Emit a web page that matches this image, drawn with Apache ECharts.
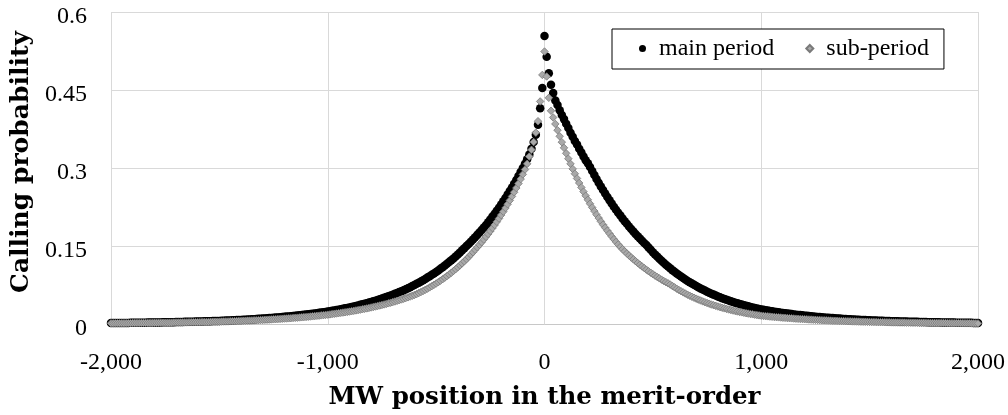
<!DOCTYPE html>
<html>
<head>
<meta charset="utf-8">
<title>Calling probability</title>
<script src="https://cdn.jsdelivr.net/npm/echarts@6/dist/echarts.min.js"></script>
<style>
  html, body { margin: 0; padding: 0; background: #fff; }
  #chart { width: 1008px; height: 415px; }
</style>
</head>
<body>
<div id="chart"></div>
<script>
// MW positions run from -2000 to 2000 in steps of 10
const mwStart = -2000
const mwStep = 10
const seriesNames = ['main period', 'sub-period']

// calling probability, main period (black dots)
const mainPeriod = [
  0.0018, 0.0018, 0.0018, 0.0019, 0.0019, 0.0020, 0.0020, 0.0021, 0.0021, 0.0022,
  0.0023, 0.0023, 0.0024, 0.0024, 0.0025, 0.0026, 0.0026, 0.0027, 0.0028, 0.0028,
  0.0029, 0.0030, 0.0030, 0.0031, 0.0032, 0.0033, 0.0034, 0.0034, 0.0035, 0.0036,
  0.0037, 0.0038, 0.0039, 0.0040, 0.0041, 0.0042, 0.0043, 0.0044, 0.0045, 0.0046,
  0.0047, 0.0048, 0.0050, 0.0051, 0.0052, 0.0053, 0.0055, 0.0056, 0.0057, 0.0059,
  0.0060, 0.0062, 0.0063, 0.0065, 0.0067, 0.0069, 0.0071, 0.0073, 0.0075, 0.0077,
  0.0079, 0.0081, 0.0084, 0.0086, 0.0088, 0.0091, 0.0093, 0.0096, 0.0099, 0.0101,
  0.0104, 0.0107, 0.0110, 0.0113, 0.0117, 0.0120, 0.0123, 0.0127, 0.0130, 0.0134,
  0.0138, 0.0142, 0.0146, 0.0150, 0.0154, 0.0158, 0.0163, 0.0167, 0.0172, 0.0177,
  0.0182, 0.0187, 0.0192, 0.0198, 0.0203, 0.0209, 0.0215, 0.0221, 0.0227, 0.0233,
  0.0240, 0.0247, 0.0254, 0.0261, 0.0269, 0.0276, 0.0284, 0.0293, 0.0301, 0.0310,
  0.0319, 0.0328, 0.0337, 0.0347, 0.0357, 0.0368, 0.0378, 0.0389, 0.0400, 0.0412,
  0.0424, 0.0436, 0.0449, 0.0462, 0.0475, 0.0489, 0.0503, 0.0517, 0.0532, 0.0548,
  0.0564, 0.0580, 0.0597, 0.0614, 0.0632, 0.0650, 0.0669, 0.0688, 0.0708, 0.0729,
  0.0750, 0.0772, 0.0794, 0.0818, 0.0842, 0.0866, 0.0892, 0.0918, 0.0945, 0.0972,
  0.1001, 0.1030, 0.1061, 0.1092, 0.1124, 0.1157, 0.1191, 0.1225, 0.1261, 0.1298,
  0.1336, 0.1376, 0.1416, 0.1457, 0.1500, 0.1540, 0.1582, 0.1625, 0.1668, 0.1714,
  0.1760, 0.1807, 0.1856, 0.1906, 0.1958, 0.2011, 0.2065, 0.2121, 0.2178, 0.2237,
  0.2298, 0.2360, 0.2424, 0.2489, 0.2556, 0.2625, 0.2696, 0.2769, 0.2844, 0.2921,
  0.300, 0.308, 0.317, 0.326, 0.337, 0.350, 0.364, 0.383, 0.415, 0.454,
  0.554, 0.514, 0.482, 0.460, 0.444, 0.430, 0.421, 0.411, 0.402, 0.394,
  0.385, 0.377, 0.368, 0.360, 0.352, 0.345, 0.337, 0.330, 0.322, 0.315,
  0.309, 0.302, 0.2941, 0.2864, 0.2790, 0.2717, 0.2646, 0.2577, 0.2509, 0.2444,
  0.2380, 0.2318, 0.2257, 0.2198, 0.2141, 0.2085, 0.2030, 0.1977, 0.1926, 0.1875,
  0.1826, 0.1779, 0.1732, 0.1687, 0.1643, 0.1600, 0.1558, 0.1518, 0.1472, 0.1426,
  0.1381, 0.1338, 0.1296, 0.1255, 0.1216, 0.1177, 0.1140, 0.1105, 0.1070, 0.1036,
  0.1004, 0.0972, 0.0942, 0.0912, 0.0883, 0.0856, 0.0829, 0.0803, 0.0777, 0.0753,
  0.0729, 0.0706, 0.0684, 0.0663, 0.0642, 0.0622, 0.0602, 0.0583, 0.0565, 0.0547,
  0.0530, 0.0513, 0.0497, 0.0482, 0.0466, 0.0452, 0.0437, 0.0424, 0.0410, 0.0397,
  0.0385, 0.0373, 0.0361, 0.0350, 0.0339, 0.0328, 0.0318, 0.0308, 0.0298, 0.0289,
  0.0280, 0.0272, 0.0265, 0.0258, 0.0251, 0.0244, 0.0237, 0.0231, 0.0224, 0.0218,
  0.0212, 0.0207, 0.0201, 0.0196, 0.0190, 0.0185, 0.0180, 0.0175, 0.0171, 0.0166,
  0.0161, 0.0157, 0.0153, 0.0149, 0.0145, 0.0141, 0.0137, 0.0133, 0.0129, 0.0126,
  0.0122, 0.0119, 0.0116, 0.0113, 0.0110, 0.0107, 0.0104, 0.0101, 0.0098, 0.0096,
  0.0093, 0.0091, 0.0088, 0.0086, 0.0083, 0.0081, 0.0079, 0.0077, 0.0075, 0.0073,
  0.0071, 0.0069, 0.0067, 0.0066, 0.0064, 0.0063, 0.0061, 0.0060, 0.0058, 0.0057,
  0.0055, 0.0054, 0.0053, 0.0051, 0.0050, 0.0049, 0.0048, 0.0047, 0.0045, 0.0044,
  0.0043, 0.0042, 0.0041, 0.0040, 0.0039, 0.0038, 0.0037, 0.0036, 0.0035, 0.0034,
  0.0034, 0.0033, 0.0032, 0.0031, 0.0030, 0.0030, 0.0029, 0.0028, 0.0027, 0.0027,
  0.0026, 0.0025, 0.0025, 0.0024, 0.0023, 0.0023, 0.0022, 0.0022, 0.0021, 0.0021,
  0.0020
]

// calling probability, sub-period (grey diamonds)
const subPeriod = [
  0.0013, 0.0013, 0.0014, 0.0014, 0.0014, 0.0015, 0.0015, 0.0016, 0.0016, 0.0016,
  0.0017, 0.0017, 0.0018, 0.0018, 0.0019, 0.0019, 0.0020, 0.0020, 0.0021, 0.0021,
  0.0022, 0.0022, 0.0023, 0.0023, 0.0024, 0.0024, 0.0025, 0.0026, 0.0026, 0.0027,
  0.0028, 0.0028, 0.0029, 0.0030, 0.0030, 0.0031, 0.0032, 0.0033, 0.0033, 0.0034,
  0.0035, 0.0036, 0.0037, 0.0038, 0.0039, 0.0040, 0.0041, 0.0042, 0.0043, 0.0044,
  0.0045, 0.0046, 0.0048, 0.0049, 0.0050, 0.0052, 0.0053, 0.0055, 0.0056, 0.0058,
  0.0059, 0.0061, 0.0063, 0.0065, 0.0066, 0.0068, 0.0070, 0.0072, 0.0074, 0.0076,
  0.0078, 0.0081, 0.0083, 0.0085, 0.0088, 0.0090, 0.0093, 0.0095, 0.0098, 0.0101,
  0.0104, 0.0106, 0.0109, 0.0112, 0.0116, 0.0119, 0.0122, 0.0126, 0.0129, 0.0133,
  0.0136, 0.0140, 0.0144, 0.0148, 0.0152, 0.0157, 0.0161, 0.0166, 0.0170, 0.0175,
  0.0180, 0.0185, 0.0191, 0.0196, 0.0202, 0.0208, 0.0214, 0.0220, 0.0226, 0.0233,
  0.0239, 0.0246, 0.0253, 0.0261, 0.0268, 0.0276, 0.0284, 0.0292, 0.0300, 0.0309,
  0.0318, 0.0327, 0.0336, 0.0346, 0.0356, 0.0366, 0.0376, 0.0387, 0.0398, 0.0410,
  0.0421, 0.0433, 0.0446, 0.0459, 0.0472, 0.0485, 0.0499, 0.0513, 0.0528, 0.0543,
  0.0559, 0.0575, 0.0595, 0.0615, 0.0636, 0.0658, 0.0680, 0.0704, 0.0728, 0.0753,
  0.0778, 0.0805, 0.0833, 0.0861, 0.0891, 0.0921, 0.0953, 0.0985, 0.1019, 0.1054,
  0.1090, 0.1127, 0.1166, 0.1206, 0.1247, 0.1290, 0.1334, 0.1380, 0.1427, 0.1476,
  0.1524, 0.1573, 0.1624, 0.1676, 0.1730, 0.1786, 0.1844, 0.1903, 0.1965, 0.2028,
  0.2094, 0.2161, 0.2231, 0.2303, 0.2377, 0.2454, 0.2534, 0.2615, 0.2700, 0.2787,
  0.2877, 0.297, 0.308, 0.322, 0.335, 0.350, 0.368, 0.390, 0.428, 0.479,
  0.524, 0.476, 0.435, 0.410, 0.3972, 0.3847, 0.3727, 0.3610, 0.3497, 0.3388,
  0.3282, 0.3179, 0.3080, 0.2983, 0.2890, 0.2799, 0.2712, 0.2627, 0.2545, 0.2465,
  0.2388, 0.2313, 0.2241, 0.2171, 0.2103, 0.2037, 0.1973, 0.1911, 0.1852, 0.1794,
  0.1738, 0.1683, 0.1631, 0.1579, 0.1530, 0.1482, 0.1438, 0.1397, 0.1357, 0.1318,
  0.1280, 0.1244, 0.1208, 0.1173, 0.1140, 0.1107, 0.1076, 0.1045, 0.1015, 0.0986,
  0.0958, 0.0930, 0.0904, 0.0878, 0.0853, 0.0828, 0.0805, 0.0782, 0.0759, 0.0731,
  0.0705, 0.0679, 0.0654, 0.0630, 0.0608, 0.0586, 0.0564, 0.0544, 0.0524, 0.0505,
  0.0487, 0.0469, 0.0452, 0.0435, 0.0419, 0.0404, 0.0390, 0.0375, 0.0362, 0.0349,
  0.0336, 0.0324, 0.0312, 0.0301, 0.0290, 0.0279, 0.0269, 0.0259, 0.0250, 0.0241,
  0.0232, 0.0224, 0.0216, 0.0208, 0.0200, 0.0193, 0.0186, 0.0179, 0.0172, 0.0166,
  0.0160, 0.0156, 0.0151, 0.0147, 0.0143, 0.0139, 0.0135, 0.0132, 0.0128, 0.0125,
  0.0121, 0.0118, 0.0115, 0.0112, 0.0109, 0.0106, 0.0103, 0.0100, 0.0097, 0.0095,
  0.0092, 0.0090, 0.0087, 0.0085, 0.0083, 0.0080, 0.0078, 0.0076, 0.0074, 0.0072,
  0.0070, 0.0068, 0.0066, 0.0064, 0.0063, 0.0061, 0.0059, 0.0058, 0.0056, 0.0055,
  0.0053, 0.0052, 0.0050, 0.0049, 0.0048, 0.0046, 0.0045, 0.0044, 0.0043, 0.0041,
  0.0040, 0.0039, 0.0038, 0.0037, 0.0036, 0.0035, 0.0035, 0.0034, 0.0033, 0.0032,
  0.0031, 0.0030, 0.0030, 0.0029, 0.0028, 0.0028, 0.0027, 0.0026, 0.0026, 0.0025,
  0.0024, 0.0024, 0.0023, 0.0023, 0.0022, 0.0022, 0.0021, 0.0021, 0.0020, 0.0020,
  0.0019, 0.0019, 0.0018, 0.0018, 0.0017, 0.0017, 0.0016, 0.0016, 0.0016, 0.0015,
  0.0015, 0.0014, 0.0014, 0.0014, 0.0013, 0.0013, 0.0013, 0.0012, 0.0012, 0.0012,
  0.0012
]

const tickFont = 'Liberation Serif'
const titleFont = 'DejaVu Serif'

// pair each value with its MW position
function toPoints(vals) {
  return vals.map((v, i) => [mwStart + i * mwStep, v])
}

let chart = echarts.init(document.getElementById('chart'))
let option = {
  animation: false,
  backgroundColor: '#fff',
  grid: {
    left: 111,
    right: 30,
    top: 12,
    bottom: 90
  },
  legend: {
    left: 612,
    top: 29,
    orient: 'horizontal',
    data: [
      { name: seriesNames[0], icon: 'circle' },
      { name: seriesNames[1], icon: 'diamond' }
    ],
    itemWidth: 7,
    itemHeight: 7,
    itemGap: 31,
    padding: [5, 15, 6, 27],
    borderColor: '#000',
    borderWidth: 1,
    backgroundColor: '#fff',
    textStyle: {
      fontFamily: tickFont,
      fontSize: 24,
      color: '#000',
      lineHeight: 24,
      padding: [5, 0, 0, 8]
    }
  },
  xAxis: {
    type: 'value',
    min: -2000,
    max: 2000,
    interval: 1000,
    name: 'MW position in the merit-order',
    nameLocation: 'middle',
    nameGap: 61,
    nameTextStyle: {
      fontFamily: titleFont,
      fontWeight: 'bold',
      fontSize: 24.5,
      color: '#000'
    },
    axisLine: { show: true, lineStyle: { color: '#c8c8c8', width: 1 } },
    axisTick: { show: false },
    axisLabel: {
      margin: 27,
      fontFamily: tickFont,
      fontSize: 24,
      color: '#000',
      formatter: v => v.toLocaleString('en-US')
    },
    splitLine: { show: true, lineStyle: { color: '#d9d9d9', width: 1 } }
  },
  yAxis: {
    type: 'value',
    min: 0,
    max: 0.6,
    interval: 0.15,
    name: 'Calling probability',
    nameLocation: 'middle',
    nameGap: 75,
    nameTextStyle: {
      fontFamily: titleFont,
      fontWeight: 'bold',
      fontSize: 25,
      color: '#000',
      padding: [0, 0, 0, 12]
    },
    axisLine: { show: false },
    axisTick: { show: false },
    axisLabel: {
      margin: 24,
      fontFamily: tickFont,
      fontSize: 24,
      color: '#000',
      verticalAlign: 'top',
      padding: [-7, 0, 0, 0],
      formatter: v => String(parseFloat(v.toFixed(2)))
    },
    splitLine: { show: true, lineStyle: { color: '#d9d9d9', width: 1 } }
  },
  series: [
    {
      name: seriesNames[0],
      type: 'scatter',
      symbol: 'circle',
      symbolSize: 8.5,
      itemStyle: { color: '#000', opacity: 1 },
      emphasis: { disabled: true },
      data: toPoints(mainPeriod)
    },
    {
      name: seriesNames[1],
      type: 'scatter',
      symbol: 'diamond',
      symbolSize: 7.5,
      itemStyle: { color: '#a9a9a9', borderColor: '#7a7a7a', borderWidth: 0.8, opacity: 1 },
      emphasis: { disabled: true },
      data: toPoints(subPeriod)
    }
  ]
}
option && chart.setOption(option)
</script>
</body>
</html>
